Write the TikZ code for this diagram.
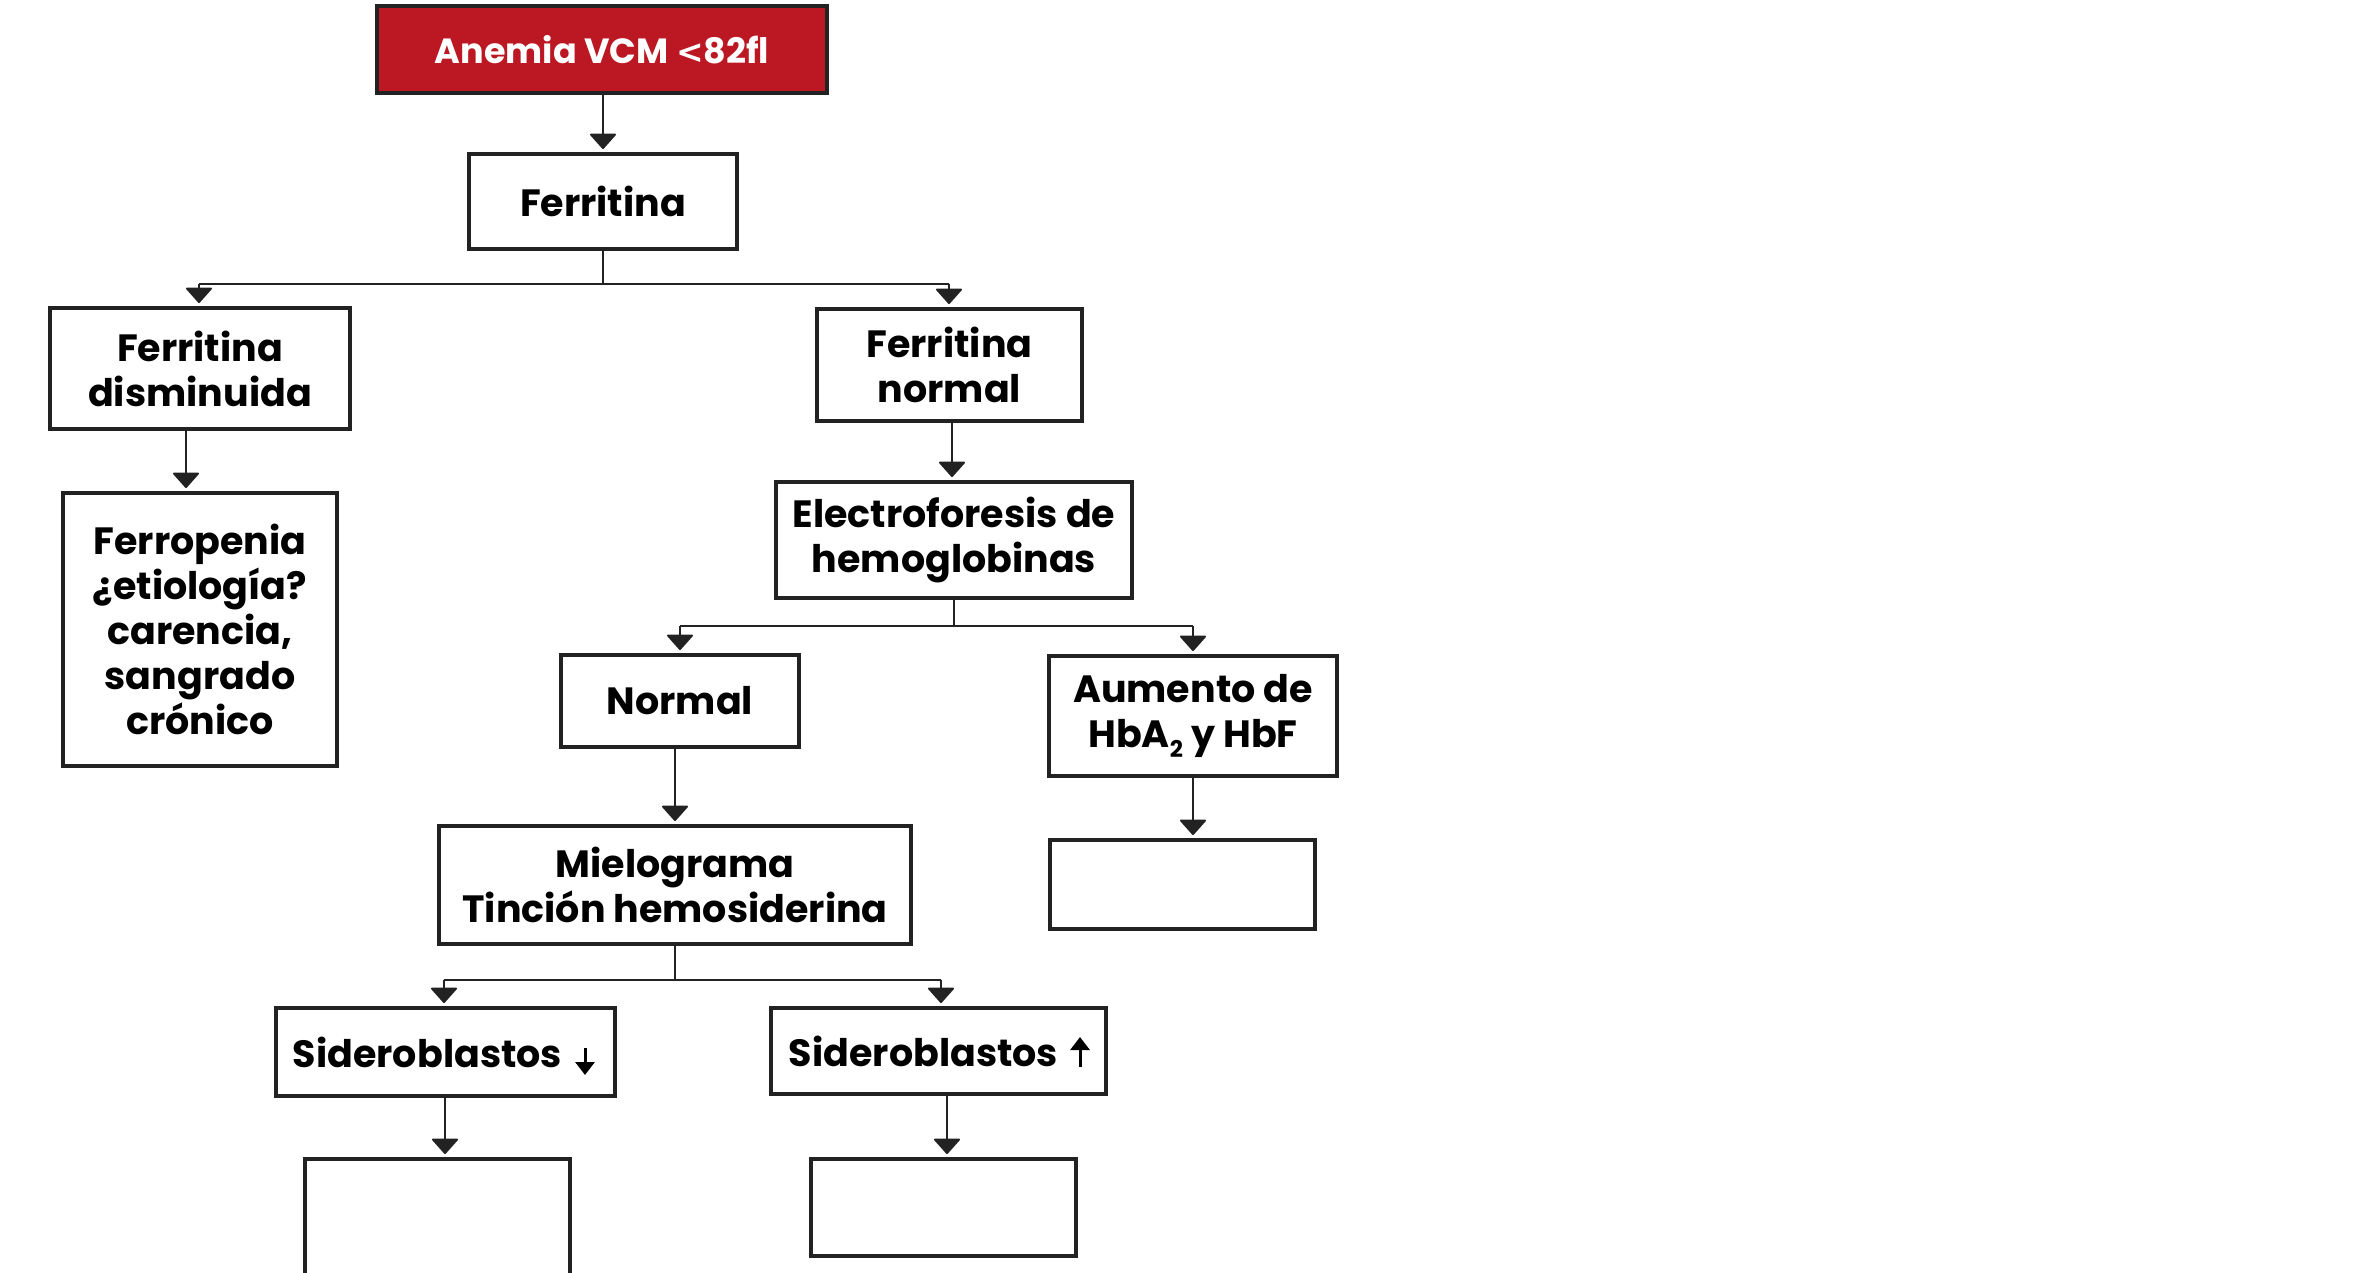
\documentclass[tikz,border=0pt]{standalone}
\usepackage{fontspec}
\setmainfont{Poppins}
\newfontfamily\symfont{DejaVu Sans}
\usetikzlibrary{arrows.meta,calc}
\definecolor{boxred}{HTML}{BC1823}
\definecolor{edge}{HTML}{222222}
\begin{document}
\begin{tikzpicture}[x=1pt,y=-1pt,
  every node/.style={inner sep=0pt,outer sep=0pt},
  flowbox/.style={draw=edge,line width=3.5pt,fill=white,align=center,
    font=\fontsize{38}{45}\selectfont\bfseries,text=black},
  arr/.style={line width=2pt,draw=edge,-{Triangle[width=28pt,length=16pt,round]},shorten >=5pt},
  ln/.style={line width=2pt,draw=edge},
  textarrow/.style={line width=3pt,draw=black,-{Triangle[width=19pt,length=13pt]}}]
\useasboundingbox (0,0) rectangle (2376,1272);
\fill[white] (0,0) rectangle (2376,1272);
% boxes
\node[flowbox,fill=boxred,text=white,minimum width=450pt,minimum height=87pt,
  font=\fontsize{35}{40}\selectfont\bfseries] (anemia) at (602,49.5)
  {Anemia VCM {\symfont\bfseries\fontsize{33}{40}\selectfont<}82fl};
\node[flowbox,minimum width=268pt,minimum height=95pt,
  font=\fontsize{38}{45}\selectfont\bfseries] (ferr) at (603,201.5) {Ferritina};
\node[flowbox,minimum width=300pt,minimum height=121pt] (fdis) at (200,368.5) {Ferritina\\disminuida};
\node[flowbox,minimum width=265pt,minimum height=112pt] (fnorm) at (949.5,365) {Ferritina\\normal};
\node[flowbox,minimum width=274pt,minimum height=273pt] (ferrop) at (200,629.5)
  {Ferropenia\\¿etiología?\\carencia,\\sangrado\\crónico};
\node[flowbox,minimum width=356pt,minimum height=116pt] (electro) at (954,540) {Electroforesis de\\hemoglobinas};
\node[flowbox,minimum width=238pt,minimum height=92pt] (normal) at (680,701) {Normal};
\node[flowbox,minimum width=288pt,minimum height=120pt] (aumento) at (1193,716)
  {Aumento de\\HbA\raisebox{-0.5ex}{\fontsize{23}{23}\selectfont 2} y HbF};
\node[flowbox,minimum width=265pt,minimum height=89pt] (aumempty) at (1182.5,884.5) {};
\node[flowbox,minimum width=472pt,minimum height=118pt] (mielo) at (675,885) {Mielograma\\Tinción hemosiderina};
\node[flowbox,minimum width=339pt,minimum height=88pt] (siddown) at (445.5,1052)
  {Sideroblastos\hspace{36pt}};
\node[flowbox,minimum width=335pt,minimum height=86pt] (sidup) at (938.5,1051)
  {Sideroblastos\hspace{30pt}};
\node[flowbox,minimum width=265pt,minimum height=140pt] (emptyl) at (437.5,1229) {};
\node[flowbox,minimum width=265pt,minimum height=97pt] (emptyr) at (943.5,1207.5) {};
% arrows that belong to the Sideroblastos labels (yshift is upward)
\draw[textarrow] ([xshift=-30pt,yshift=4pt]siddown.east) -- ([xshift=-30pt,yshift=-23pt]siddown.east);
\draw[textarrow] ([xshift=-26pt,yshift=-16pt]sidup.east) -- ([xshift=-26pt,yshift=14pt]sidup.east);
% coordinates for branches
\coordinate (b1) at (603,284);
\coordinate (b2) at (954,626);
\coordinate (b3) at (675,980);
% connectors
\draw[arr] (anemia.south -| ferr.north) -- (ferr.north);
\draw[ln] (ferr.south) -- (b1);
\draw[ln] (b1 -| 199,0) -- (b1 -| 949,0);
\draw[arr] (b1 -| 199,0) -- (fdis.north -| 199,0);
\draw[arr] (b1 -| 949,0) -- (fnorm.north -| 949,0);
\draw[arr] (fdis.south -| 186,0) -- (ferrop.north -| 186,0);
\draw[arr] (fnorm.south -| 952,0) -- (electro.north -| 952,0);
\draw[ln] (electro.south) -- (b2);
\draw[ln] (b2 -| normal.north) -- (b2 -| aumento.north);
\draw[arr] (b2 -| normal.north) -- (normal.north);
\draw[arr] (b2 -| aumento.north) -- (aumento.north);
\draw[arr] (normal.south -| mielo.north) -- (mielo.north);
\draw[arr] (aumento.south) -- (aumento.south |- aumempty.north);
\draw[ln] (mielo.south) -- (b3);
\draw[ln] (b3 -| 444,0) -- (b3 -| 941,0);
\draw[arr] (b3 -| 444,0) -- (siddown.north -| 444,0);
\draw[arr] (b3 -| 941,0) -- (sidup.north -| 941,0);
\draw[arr] (siddown.south -| 445,0) -- (emptyl.north -| 445,0);
\draw[arr] (sidup.south -| 947,0) -- (emptyr.north -| 947,0);
\end{tikzpicture}
\end{document}
